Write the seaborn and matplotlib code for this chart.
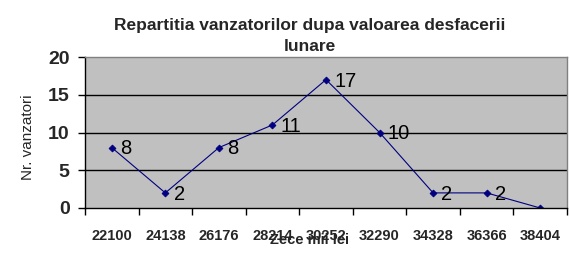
import matplotlib
matplotlib.use("Agg")
import matplotlib.pyplot as plt
import seaborn as sns
import pandas as pd
import numpy as np

categories = ["22100", "24138", "26176", "28214", "30252", "32290", "34328", "36366", "38404"]
values = [8, 2, 8, 11, 17, 10, 2, 2, 0]
labels_shown = [True, True, True, True, True, True, True, True, False]
yticks = [0, 5, 10, 15, 20]

sns.set_theme(style="white")
plt.rcParams['font.family'] = ['Liberation Sans', 'DejaVu Sans']

df = pd.DataFrame({"cat": categories, "val": values})

fig = plt.figure(figsize=(5.7, 2.6), dpi=100)
ax = fig.add_axes([85/570, 1-208/260, (567-85)/570, (208-57)/260])
ax.set_facecolor("#C0C0C0")

sns.pointplot(data=df, x="cat", y="val", color="#000080", markers="D",
              markersize=3.5, linewidth=0.8, ax=ax, errorbar=None)

for i, (v, show) in enumerate(zip(values, labels_shown)):
    if show:
        ax.annotate(str(v), (i, v), xytext=(6, -1), textcoords="offset points",
                    ha="left", va="center", fontsize=14.5, color="black")

ax.set_xlim(-0.5, len(categories) - 0.5)
ax.set_ylim(0, 20)
ax.set_yticks(yticks)
ax.set_yticklabels([str(t) for t in yticks], fontsize=14, fontweight="bold")
for t in yticks[1:-1]:
    ax.axhline(t, color="black", linewidth=1, zorder=0.5)

ax.set_xticks(range(len(categories)))
ax.set_xticklabels(categories, fontsize=10.5, fontweight="bold")
ax.set_xticks(np.arange(-0.5, len(categories), 1), minor=True)
ax.tick_params(axis="x", which="major", length=0, pad=15)
ax.tick_params(axis="x", which="minor", length=5, width=1, color="black", direction="out", bottom=True)
ax.tick_params(axis="y", which="major", length=5, width=1, color="black", direction="out", left=True, pad=6)

for side in ["left", "bottom"]:
    ax.spines[side].set_color("black")
    ax.spines[side].set_linewidth(1)
for side in ["top", "right"]:
    ax.spines[side].set_color("#808080")
    ax.spines[side].set_linewidth(1)

ax.set_xlabel("")
ax.set_ylabel("")

fig.text(310/570, 1-36/260, "Repartitia vanzatorilor dupa valoarea desfacerii\nlunare",
         ha="center", va="center", fontsize=12.5, fontweight="bold", linespacing=1.45)
fig.text(310/570, 1-240/260, "Zece mii lei", ha="center", va="center",
         fontsize=10.5, fontweight="bold")
fig.text(28/570, 1-137/260, "Nr. vanzatori", ha="center", va="center",
         rotation=90, fontsize=11)

fig.savefig("out.png", dpi=100)
